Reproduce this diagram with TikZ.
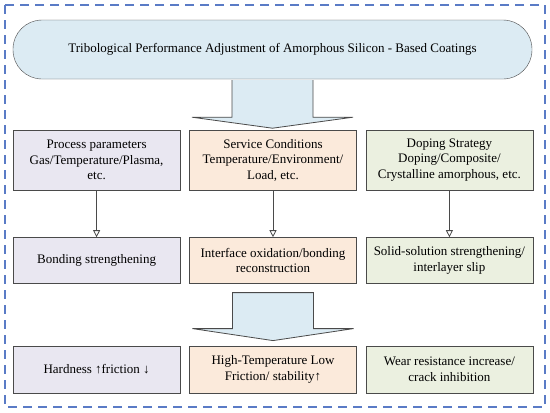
\documentclass[tikz,border=0pt]{standalone}
\usepackage{fontspec}
\setmainfont{Liberation Serif}
\usepackage{tikz}
\usetikzlibrary{arrows.meta,positioning,calc}
\definecolor{titlefill}{HTML}{DCEBF3}
\definecolor{procfill}{HTML}{E9E7F1}
\definecolor{servfill}{HTML}{FBEADB}
\definecolor{dopefill}{HTML}{EBF0E0}
\definecolor{edgegray}{HTML}{4A4A4A}
\definecolor{framblue}{HTML}{5A7BC6}
\tikzset{
  titlebox/.style={draw=edgegray,fill=titlefill,rounded corners=29pt,minimum width=519pt,minimum height=59pt,align=center},
  stagebox/.style={draw=edgegray,align=center,minimum width=167pt,inner sep=2pt},
  procbox/.style={stagebox,fill=procfill},
  servbox/.style={stagebox,fill=servfill},
  dopebox/.style={stagebox,fill=dopefill},
  bigarrow/.style={draw=edgegray,fill=titlefill,line width=0.8pt,line join=miter},
  linkarrow/.style={-{Triangle[open,length=7pt,width=7pt]},draw=edgegray,line width=0.8pt},
  frame/.style={draw=framblue,line width=1.2pt,dash pattern=on 9pt off 6pt}
}

\begin{document}
\begin{tikzpicture}[x=1pt,y=-1pt,node distance=9pt and 9pt,
  every node/.style={font=\fontsize{13}{15.5}\selectfont}]
\useasboundingbox (0,0) rectangle (550,413);
\draw[frame] (5,5) rectangle (545,407);
\node[titlebox] (title) at (272.5,49.5) {Tribological Performance Adjustment of Amorphous Silicon - Based Coatings};
% first row: influencing factors
\node[servbox,minimum height=60pt] (service) at (273,160) {Service Conditions\\Temperature/Environment/\\Load, etc.};
\node[procbox,minimum height=60pt,left=of service] (process) {Process parameters\\Gas/Temperature/Plasma,\\etc.};
\node[dopebox,minimum height=60pt,right=of service] (doping) {Doping Strategy\\Doping/Composite/\\Crystalline amorphous, etc.};
% second row: mechanisms
\node[servbox,minimum height=46pt,below=47pt of service] (oxid) {Interface oxidation/bonding\\reconstruction};
\node[procbox,minimum height=46pt,left=of oxid] (bonding) {Bonding strengthening};
\node[dopebox,minimum height=46pt,right=of oxid] (solid) {Solid-solution strengthening/\\interlayer slip};
% third row: effects
\node[servbox,minimum height=47pt,below=62pt of oxid] (hightemp) {High-Temperature Low\\Friction/ stability↑};
\node[procbox,minimum height=47pt,left=of hightemp] (hardness) {Hardness ↑friction ↓};
\node[dopebox,minimum height=47pt,right=of hightemp] (wear) {Wear resistance increase/\\crack inhibition};
% block arrows
\draw[bigarrow] ($(title.south)+(-40.5,1)$) -- ($(title.south)+(-40.5,38)$) -- ($(title.south)+(-80.5,38)$)
  -- ($(title.south)+(0,49)$) -- ($(title.south)+(80.5,38)$) -- ($(title.south)+(40.5,38)$)
  -- ($(title.south)+(40.5,1)$);
\draw[bigarrow] ($(oxid.south)+(-40.5,9)$) -- ($(oxid.south)+(-40.5,45)$) -- ($(oxid.south)+(-80.5,45)$)
  -- ($(oxid.south)+(0,57)$) -- ($(oxid.south)+(80.5,45)$) -- ($(oxid.south)+(40.5,45)$)
  -- ($(oxid.south)+(40.5,9)$) -- cycle;
\draw[linkarrow] (process)--(bonding);
\draw[linkarrow] (service)--(oxid);
\draw[linkarrow] (doping)--(solid);
\end{tikzpicture}
\end{document}
